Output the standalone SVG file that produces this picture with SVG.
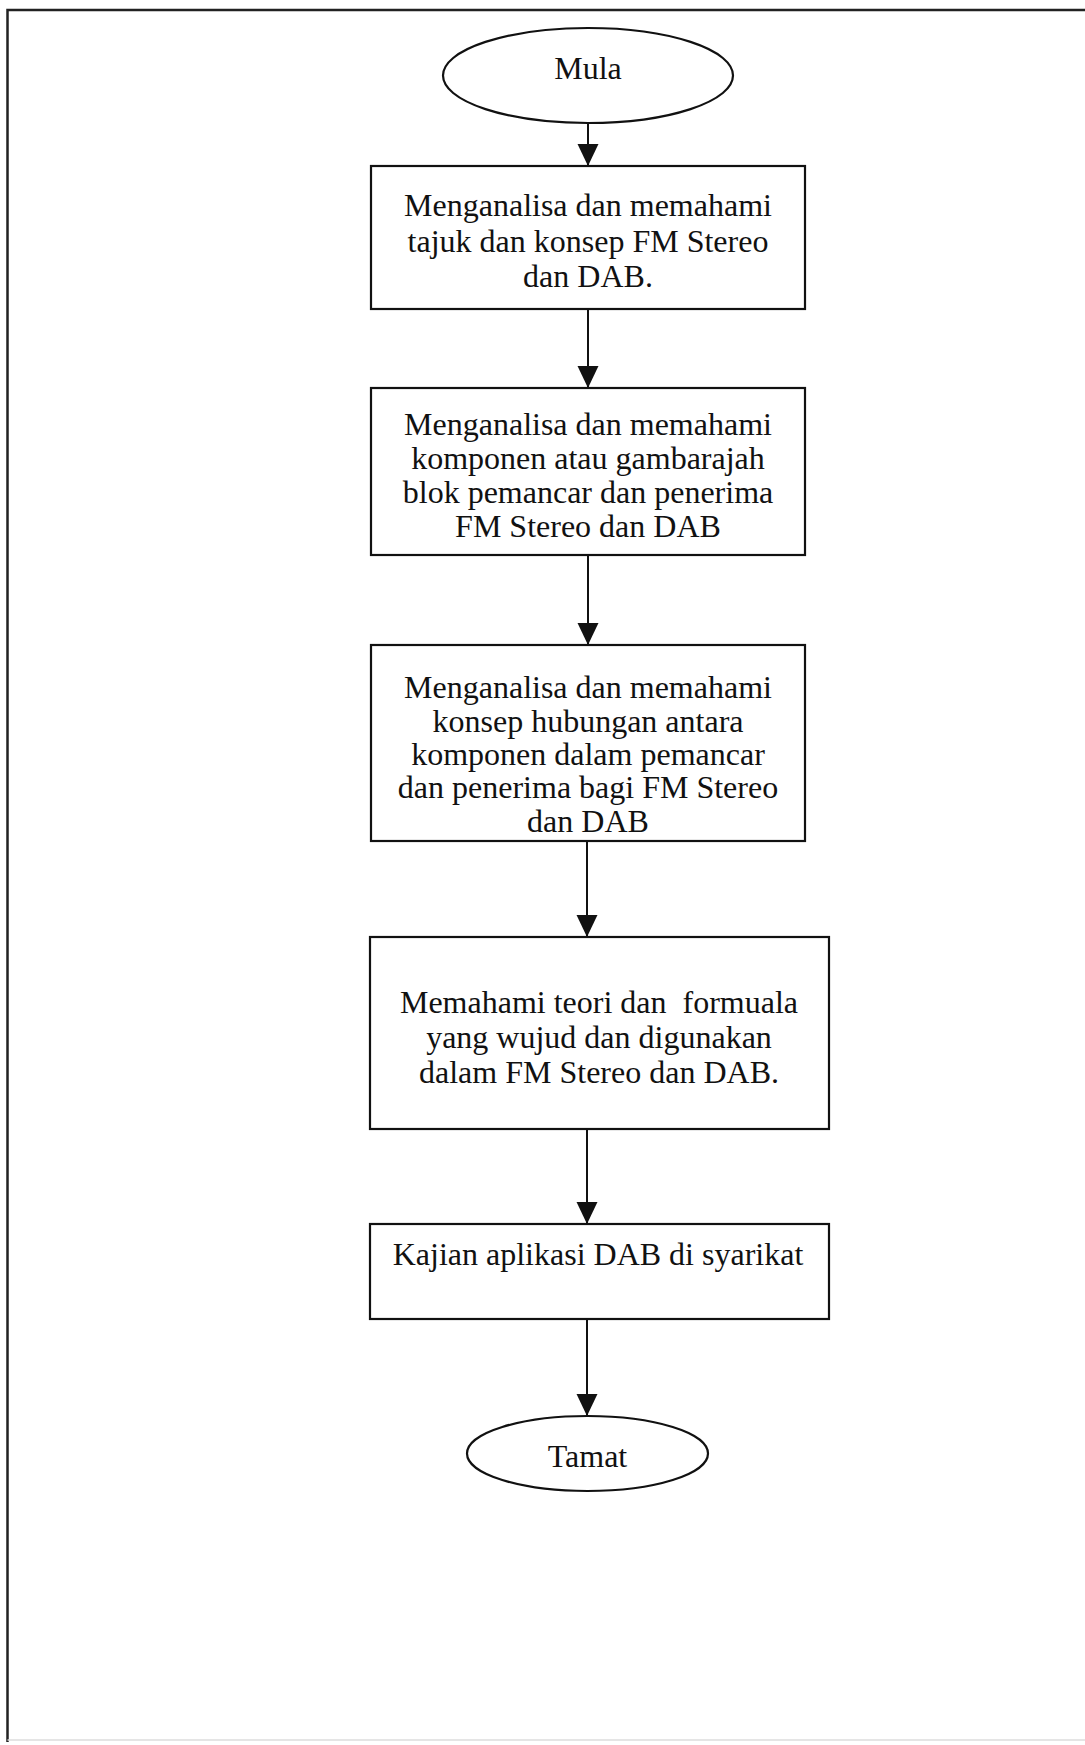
<svg xmlns="http://www.w3.org/2000/svg" width="1085" height="1745" viewBox="0 0 1085 1745">
<style>
.shape{fill:#fff;stroke:#111;stroke-width:2.2}
.lbl{font-family:"Liberation Serif","Times New Roman",serif;font-size:32px;fill:#111;text-anchor:middle}
.conn{stroke:#111;stroke-width:2;fill:none}
.frame{stroke:#222;stroke-width:2.5;fill:none}
</style>
<defs>
<marker id="arr" markerUnits="userSpaceOnUse" markerWidth="22" markerHeight="22" viewBox="0 0 20 21" refX="10" refY="21" orient="auto-start-reverse">
<path d="M0,0 L20,0 L10,21 Z" fill="#111" transform="rotate(-90 10 10.5) translate(0,0)"/>
</marker>
<marker id="arrow" markerUnits="userSpaceOnUse" markerWidth="22" markerHeight="22" viewBox="0 0 21 20" refX="21" refY="10" orient="auto">
<path d="M0,0 L21,10 L0,20 Z" fill="#111"/>
</marker>
</defs>
<rect width="1085" height="1745" fill="#fff"/>
<g id="frame">
<path class="frame" d="M7.5,1742 L7.5,10 L1085,10"/>
<line x1="7.5" y1="1740" x2="1085" y2="1740" stroke="#ddd" stroke-width="1.5"/>
</g>
<g id="connectors">
<line class="conn" x1="588" y1="123" x2="588" y2="166" marker-end="url(#arrow)"/>
<line class="conn" x1="588" y1="309" x2="588" y2="388" marker-end="url(#arrow)"/>
<line class="conn" x1="588" y1="555" x2="588" y2="645" marker-end="url(#arrow)"/>
<line class="conn" x1="587" y1="841" x2="587" y2="937" marker-end="url(#arrow)"/>
<line class="conn" x1="587" y1="1129" x2="587" y2="1224" marker-end="url(#arrow)"/>
<line class="conn" x1="587" y1="1319" x2="587" y2="1416" marker-end="url(#arrow)"/>
</g>
<g id="mula">
<ellipse class="shape" cx="588" cy="75.5" rx="145" ry="47.5"/>
<text class="lbl" x="588" y="79">Mula</text>
</g>
<g id="step1">
<rect class="shape" x="371" y="166" width="434" height="143"/>
<text class="lbl" x="588" y="216">Menganalisa dan memahami</text>
<text class="lbl" x="588" y="252">tajuk dan konsep FM Stereo</text>
<text class="lbl" x="588" y="287">dan DAB.</text>
</g>
<g id="step2">
<rect class="shape" x="371" y="388" width="434" height="167"/>
<text class="lbl" x="588" y="435">Menganalisa dan memahami</text>
<text class="lbl" x="588" y="469">komponen atau gambarajah</text>
<text class="lbl" x="588" y="503">blok pemancar dan penerima</text>
<text class="lbl" x="588" y="537">FM Stereo dan DAB</text>
</g>
<g id="step3">
<rect class="shape" x="371" y="645" width="434" height="196"/>
<text class="lbl" x="588" y="698">Menganalisa dan memahami</text>
<text class="lbl" x="588" y="732">konsep hubungan antara</text>
<text class="lbl" x="588" y="765">komponen dalam pemancar</text>
<text class="lbl" x="588" y="798">dan penerima bagi FM Stereo</text>
<text class="lbl" x="588" y="832">dan DAB</text>
</g>
<g id="step4">
<rect class="shape" x="370" y="937" width="459" height="192"/>
<text class="lbl" x="599" y="1013" xml:space="preserve">Memahami teori dan  formuala</text>
<text class="lbl" x="599" y="1048">yang wujud dan digunakan</text>
<text class="lbl" x="599" y="1083">dalam FM Stereo dan DAB.</text>
</g>
<g id="step5">
<rect class="shape" x="370" y="1224" width="459" height="95"/>
<text class="lbl" x="598" y="1265">Kajian aplikasi DAB di syarikat</text>
</g>
<g id="tamat">
<ellipse class="shape" cx="587.5" cy="1453.5" rx="120.5" ry="37.5"/>
<text class="lbl" x="587.5" y="1467">Tamat</text>
</g>
</svg>
